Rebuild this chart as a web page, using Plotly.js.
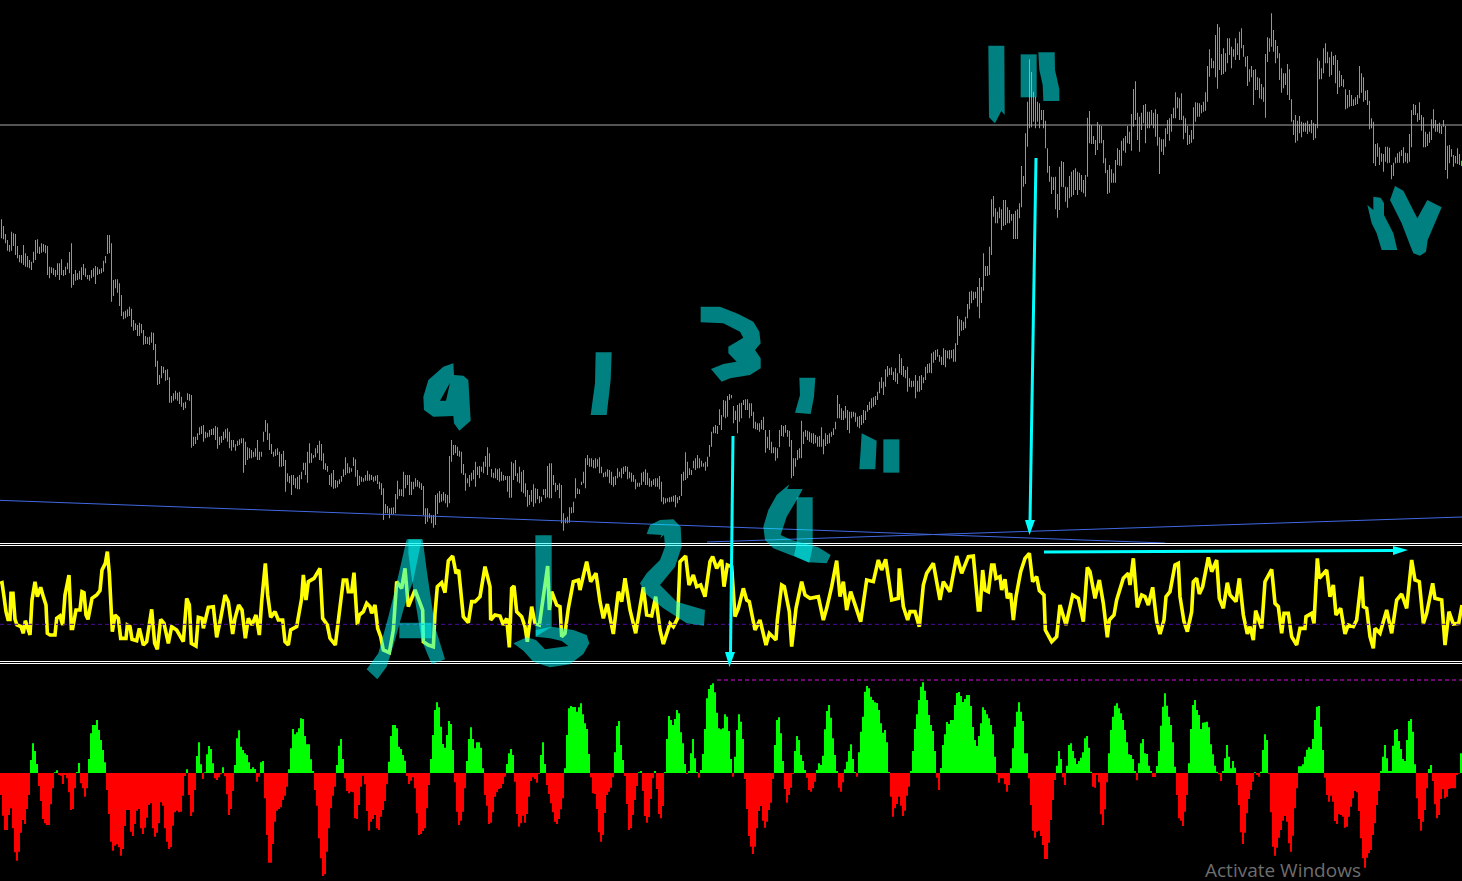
<!DOCTYPE html>
<html><head><meta charset="utf-8">
<script src="https://cdn.plot.ly/plotly-3.0.1.min.js"></script>
<style>html,body{margin:0;padding:0;background:#000;overflow:hidden}#c{width:1462px;height:881px}</style>
</head><body><div id="c"></div>
<script>
// time axis: each bar covers 6 time units
const barStep = 6;
const priceHigh = [971,951,927,909,894,934,929,927,891,864,864,894,869,861,849,844,874,909,911,889,899,897,894,891,829,827,824,819,839,839,851,819,829,841,873,899,807,819,809,817,827,837,824,804,804,819,824,831,827,821,824,847,861,924,924,899,789,791,791,779,744,694,697,701,709,703,669,659,654,661,657,639,621,617,619,632,631,597,547,504,531,529,519,521,497,441,449,457,451,454,439,421,424,449,447,444,319,319,329,347,351,354,334,331,339,342,344,351,347,319,321,334,341,344,334,309,309,296,307,311,314,314,304,287,284,279,274,284,309,274,274,334,369,359,329,297,274,281,284,274,267,277,249,209,201,204,204,194,199,204,214,241,241,274,299,269,264,284,294,307,297,269,239,231,204,209,219,189,187,191,201,221,257,239,227,224,257,251,219,202,199,194,204,217,206,204,199,202,204,184,179,164,117,111,104,106,107,147,187,161,161,214,204,204,204,184,184,194,189,184,179,171,104,104,89,84,84,144,149,156,147,153,147,144,261,309,294,294,289,277,274,237,209,194,204,211,219,244,229,231,229,244,261,287,269,
222,211,224,221,224,214,204,201,201,201,244,239,249,209,229,214,219,179,159,144,159,176,164,162,141,139,161,162,231,239,239,204,181,174,179,174,89,74,79,107,107,124,194,164,161,184,214,254,264,254,254,249,254,251,257,229,211,214,221,219,214,199,201,224,214,224,229,231,229,214,211,204,191,181,181,211,214,221,211,194,187,191,194,194,201,184,137,134,134,137,139,142,144,137,141,207,214,272,244,224,219,247,254,264,254,247,239,244,259,294,334,349,354,351,401,384,429,427,441,447,444,411,397,414,419,421,429,431,431,419,419,394,364,359,359,369,379,339,319,339,304,287,287,284,339,354,351,354,339,337,309,254,254,279,284,367,334,339,337,334,329,329,324,319,321,347,311,329,324,329,334,344,364,444,417,404,397,411,399,394,394,394,391,379,381,384,399,397,414,424,434,437,441,454,484,497,484,521,531,524,527,514,524,509,567,554,531,519,529,494,487,487,504,487,501,504,497,529,537,539,569,574,579,581,564,559,584,579,577,579,579,581,599,681,671,669,664,679,717,754,757,754,754,768,795,
768,869,831,831,889,1031,1041,1004,994,1007,1001,1029,1029,1007,999,987,987,997,1001,1019,1131,1101,1229,1324,1451,1413,1354,1339,1324,1319,1299,1299,1267,1184,1131,1099,1097,1099,1047,1129,1146,1143,1069,1067,1101,1114,1119,1124,1114,1111,1104,1089,1104,1276,1296,1254,1221,1209,1263,1254,1251,1209,1154,1119,1134,1121,1109,1149,1184,1179,1207,1214,1221,1251,1234,1287,1362,1385,1291,1279,1291,1314,1317,1294,1294,1299,1291,1301,1287,1217,1211,1211,1244,1269,1274,1287,1306,1352,1337,1334,1349,1282,1274,1251,1224,1239,1307,1322,1321,1319,1314,1324,1352,1431,1481,1454,1447,1524,1557,1547,1467,1484,1469,1514,1514,1489,1481,1514,1499,1534,1544,1494,1459,1461,1421,1431,1419,1421,1397,1394,1377,1367,1467,1517,1514,1589,1539,1509,1491,1469,1424,1409,1409,1437,1421,1331,1269,1284,1267,1281,1264,1261,1261,1267,1257,1269,1261,1257,1454,1447,1424,1484,1499,1474,1457,1474,1461,1464,1449,1417,1404,1391,1361,1344,1359,1344,1331,1337,1344,1431,1409,1397,1357,1359,1327,1274,1264,1197,1199,1187,1169,1167,1189,1189,1186,1134,1141,1157,1169,1174,1179,1187,1171,1169,1227,1299,1317,1314,1289,1322,1284,1277,1234,1227,1234,1271,1301,1269,1257,1261,1251,1269,1251,1192,1194,1181,1164,1161,1184,1167,1147];
const priceLow = [914,911,899,877,874,877,891,864,854,842,839,834,829,827,824,819,841,849,869,867,871,874,869,804,794,809,804,799,804,789,804,801,804,821,809,766,774,787,789,791,789,804,799,791,787,794,799,777,804,807,809,814,839,867,869,724,741,764,751,711,681,671,674,679,681,649,637,639,621,621,629,595,597,597,594,601,579,529,474,477,494,509,487,489,421,421,427,431,427,417,409,399,404,429,427,286,291,297,309,324,327,304,314,317,319,324,324,309,283,294,301,309,314,304,284,277,287,277,291,294,299,211,234,249,254,254,257,259,249,249,259,304,334,309,279,267,259,261,264,229,229,231,154,184,179,144,174,164,161,161,191,219,204,181,239,241,254,257,269,249,247,221,219,214,174,169,163,164,167,177,184,199,204,209,209,214,231,199,171,174,184,184,187,187,187,189,184,187,177,161,144,69,89,89,74,87,87,89,131,141,141,139,164,174,144,144,161,169,169,164,159,84,57,64,74,59,46,54,87,121,124,127,119,107,119,244,264,269,261,259,209,204,157,179,169,187,191,169,204,194,214,209,229,204,229,
197,194,194,189,184,187,187,189,154,136,136,189,201,184,179,154,149,139,109,114,124,109,119,131,119,124,144,134,137,134,134,174,154,159,134,59,37,59,59,61,89,91,134,147,147,174,179,164,234,229,229,224,224,229,209,209,197,199,199,179,174,169,174,194,199,194,207,214,191,194,184,184,161,169,169,174,184,174,174,169,169,174,169,169,161,124,116,119,124,122,124,124,107,119,129,141,187,189,194,204,204,224,219,224,224,229,229,217,229,259,289,329,329,327,354,339,379,374,379,429,434,359,369,329,364,374,414,399,399,374,381,344,341,339,334,341,339,271,284,279,269,269,247,254,287,321,319,331,319,289,194,201,229,249,254,254,297,319,309,304,301,297,299,289,289,289,266,291,297,299,319,324,341,374,374,369,369,374,339,329,374,379,364,349,344,354,359,369,394,399,404,409,414,429,449,464,444,469,499,504,504,489,484,477,509,504,499,494,454,469,467,469,434,454,454,459,479,489,509,511,509,541,549,559,544,534,534,527,554,551,554,544,544,594,621,637,639,644,674,701,719,729,734,709,674,
720,757,801,801,804,864,979,959,959,974,939,951,954,959,959,967,912,912,912,974,1007,1069,1077,1189,1244,1247,1264,1244,1264,1244,1269,1244,1184,1111,1084,1047,1059,1001,976,999,1069,1067,1024,1006,1034,1039,1044,1059,1044,1059,1054,1049,1039,1099,1199,1197,1197,1164,1179,1199,1199,1139,1109,1047,1051,1081,1081,1081,1134,1132,1132,1177,1171,1199,1197,1177,1249,1269,1209,1174,1239,1259,1199,1244,1244,1254,1244,1219,1192,1107,1174,1164,1189,1227,1207,1234,1274,1274,1304,1269,1269,1211,1231,1194,1197,1201,1211,1264,1279,1279,1289,1294,1297,1324,1399,1424,1424,1397,1363,1419,1404,1407,1414,1439,1464,1424,1459,1449,1464,1449,1484,1459,1429,1371,1384,1397,1314,1359,1359,1334,1331,1324,1276,1443,1474,1489,1474,1439,1454,1389,1351,1364,1374,1344,1329,1264,1224,1201,1207,1229,1217,1234,1234,1227,1234,1229,1209,1214,1244,1391,1391,1409,1439,1439,1399,1404,1434,1379,1347,1367,1371,1367,1301,1304,1309,1311,1311,1314,1317,1334,1351,1324,1329,1314,1241,1244,1139,1131,1159,1134,1144,1114,1144,1139,1141,1091,1101,1139,1141,1141,1161,1139,1144,1139,1144,1187,1284,1284,1264,1269,1237,1187,1187,1191,1201,1209,1244,1234,1234,1229,1227,1249,1119,1093,1139,1159,1129,1139,1137,1134,1131];
const oscX1 = [0,6,12,18,24,30,33,39,45,51,63,70,76,82,90,96,105,112,122,130,138,142,150,165,170,180,188,195,207,214,218,228,240,246,252,258,264,276,290,300,306,316,322,328,334,337,345,355,362,378,382,390,396,410,418,430,440,455,464,472,482,492,505,515,530,550,560,568,574,588,595,606,610,625,640,650,662,675,685,698,705,716,726,736,745,756,768,778,785,796,803,812,825,835,848,855,865,872,890,905,910,918,925,942,960,968,982,990,1006,1030,1040,1045,1055,1062,1072,1078,1090,1100,1110,1115,1125,1133,1142,1150,1168,1180,1190,1205,1215,1225,1245,1268,1270,1285,1300,1305,1312,1325,1335,1345,1358,1368,1376,1390,1405,1415,1425,1440,1455,1470];
const oscY1 = [236,238,196,151,128,128,206,206,128,111,106,86,124,106,81,186,241,196,224,196,171,86,81,81,131,138,111,201,261,101,101,156,156,211,208,141,128,191,201,214,276,296,331,266,106,91,141,131,71,71,111,106,68,64,101,51,61,158,56,38,128,116,56,106,96,61,191,171,56,48,134,131,101,164,166,74,131,201,181,84,131,171,156,71,131,111,141,81,181,296,201,134,151,126,126,61,51,96,106,191,261,186,241,251,281,131,111,71,51,246,246,211,211,268,111,141,151,176,166,146,171,101,76,36,28,96,241,221,281,166,216,156,61,51,46,146,226,238,208,304,318,266,276,136,118,181,181,196,286,226];
const oscX2 = [2,15,30,40,50,58,65,72,80,95,105,112,125,135,148,160,173,178,185,200,210,215,225,235,250,265,270,290,302,318,330,340,352,370,385,395,405,420,437,450,460,470,485,497,510,520,540,550,563,570,587,597,610,620,632,645,660,668,680,695,702,712,725,735,745,760,770,778,795,810,828,838,858,862,875,883,898,905,918,935,945,960,985,1000,1010,1025,1040,1050,1060,1070,1082,1112,1130,1150,1165,1175,1187,1205,1225,1228,1240,1253,1260,1275,1288,1300,1310,1330,1350,1360,1380,1400,1415,1435,1450,1465];
const oscY2 = [126,141,138,111,131,44,221,228,151,136,106,61,166,116,111,191,288,156,211,171,166,76,86,161,241,246,216,301,241,266,181,131,174,84,211,181,251,156,86,166,224,141,138,196,96,54,116,106,131,301,318,231,261,226,231,196,301,316,281,306,226,291,286,136,161,221,186,181,96,126,51,86,66,126,231,226,151,46,161,241,201,191,196,126,161,226,304,196,241,156,211,121,246,241,306,276,308,186,191,281,166,126,151,151,106,231,266,296,186,241,211,318,266,316,318,156];
const oscX3 = [0,8,15,25,35,42,48,60,65,75,82,92,100,108,122,135,148,158,170,178,192,196,215,230,240,258,270,278,295,310,322,330,345,358,370,382,388,402,410,430,445,450,460,472,485,495,505,518,530,540,552,558,570,585,595,600,612,622,635,640,650,658,668,685,695,710,718,730,742,750,768,778,790,802,810,820,827,845,855,875,885,895,905,912,925,935,950,960,975,978,995,1002,1012,1018,1040,1050,1060,1068,1082,1095,1105,1120,1130,1145,1150,1160,1170,1180,1185,1200,1220,1235,1250,1265,1280,1295,1305,1318,1330,1340,1358,1365,1385,1395,1407,1420,1436,1446];
const oscY3 = [156,276,216,211,291,291,251,256,216,248,191,206,126,196,271,311,326,241,256,214,201,96,61,76,171,111,171,201,191,121,284,271,191,246,176,74,126,141,186,251,266,231,311,164,201,196,171,224,121,84,126,196,211,291,296,196,121,91,151,241,251,204,226,314,271,306,191,161,238,201,181,251,141,84,106,66,154,101,241,278,176,166,86,146,146,76,51,101,101,136,146,116,311,251,276,196,231,141,161,84,111,106,126,256,166,161,76,41,101,86,156,86,186,204,161,306,246,241,116,146,236,191,186,51,151,114,116,171];
const histA = [-66,-128,-171,-171,-126,-106,-166,-238,-263,-236,-179,-141,-153,-108,-66,39,89,66,27,-39,-84,-138,-151,-156,-156,-94,-46,2,8,-6,-8,-33,-6,-16,-58,-111,-108,-46,3,30,-31,-46,-71,-46,42,119,144,144,159,129,99,69,32,-51,-123,-206,-233,-218,-214,-223,-248,-228,-159,-111,-111,-176,-189,-153,-113,-108,-166,-183,-164,-134,-96,-91,-166,-191,-179,-151,-88,-98,-166,-206,-228,-223,-158,-118,-113,-118,-116,-68,-9,11,-66,-129,-118,-51,51,92,26,-18,2,56,81,72,29,-16,-21,-13,-4,17,-10,-64,-126,-108,-54,24,104,128,79,69,59,54,32,12,17,12,-26,-11,32,36,-76,-186,-269,-269,-213,-146,-113,-108,-103,-81,-68,-41,11,74,132,116,122,134,164,162,111,86,86,41,6,-51,-98,-196,-256,-309,-304,-236,-166,-106,-68,-41,24,82,102,42,-16,-54,-61,-56,-58,-136,-138,-96,-41,-8,-34,-114,-173,-146,-138,-126,-166,-171,-131,-111,-84,-34,34,111,144,144,134,79,72,54,37,-9,-33,-23,-13,-46,-121,-186,-183,-174,-166,-106,-36,42,114,189,212,197,139,87,76,114,156,147,69,-28,-116,-156,-143,-116,-46,36,102,137,102,74,92,92,76,14,-66,-98,-153];
const histB = [-149,-118,-71,-58,-48,-46,-33,-11,27,59,72,54,-26,-123,-161,-151,-128,-149,-123,-71,-24,-13,-18,-29,-3,54,92,27,-36,-63,-91,-118,-146,-153,-138,-109,-76,14,114,194,201,198,198,184,197,209,176,149,132,57,-13,-61,-63,-108,-178,-206,-186,-120,-66,-56,-44,-13,62,141,156,84,39,-9,-93,-171,-166,-126,-81,-39,2,6,-54,-129,-149,-132,-78,-16,6,-48,-123,-136,-99,3,102,171,159,144,162,189,179,122,89,27,-3,6,59,102,44,3,-14,9,57,132,224,252,264,269,242,181,134,131,134,176,169,126,42,-11,49,129,176,154,102,-18,-108,-189,-221,-243,-221,-166,-114,-99,-143,-164,-146,-111,-89,-18,84,159,167,119,36,-48,-89,-66,-44,-3,66,111,99,54,36,9,-14,-51,-56,-46,-26,9,29,24,52,131,186,204,166,104,54,6,-44,-56,-28,11,34,66,86,42,3,-11,62,124,169,244,261,254,229,219,212,210,189,149,121,129,92,3,-71,-131,-106,-93,-71,-98,-129,-113,-68,-41,6,66,132,176,219,259,272,247,219,174,144,126,66,-14,-51,15,84,116,153,147,159,159,204,240,243,231,213,222,234,234,201,138,99,81,111];
const histC = [149,197,189,176,164,144,116,49,-4,-29,-16,-16,-34,-56,-36,14,74,139,184,212,184,156,59,59,-16,-96,-173,-194,-176,-173,-189,-216,-258,-258,-209,-141,-81,-21,22,66,42,-13,-36,22,84,89,66,44,27,36,46,62,104,111,76,4,-41,-44,-6,-28,-124,-156,-109,-28,59,129,169,202,209,194,179,159,129,92,56,54,42,6,-22,29,89,102,59,57,22,6,-12,-12,21,66,142,199,239,202,169,144,92,19,-66,-136,-143,-159,-116,-66,29,132,204,219,189,174,132,151,152,154,137,86,56,22,4,-4,-24,6,44,84,49,14,36,16,-36,-96,-178,-213,-179,-121,-78,-51,-26,2,-6,-11,4,69,116,99,-2,-118,-221,-248,-224,-194,-171,-143,-129,-146,-211,-236,-188,-106,-46,20,20,26,49,70,77,72,102,159,199,201,139,69,-14,-66,-86,-68,-86,-144,-153,-124,-126,-131,-164,-161,-131,-101,-76,-54,-58,-114,-196,-256,-284,-254,-241,-231,-186,-151,-96,-54,6,49,84,44,6,6,82,129,132,96,72,42,36,99,156,162,124,26,-76,-138,-173,-146,-111,-46,12,24,-24,-94,-136,-126,-78,-49,-76,-71,-48,-46,-46,-46,-6,-2,59];
const levelsOsc = [355.5,349.5,1.5,-4.5];
const midOsc = 113;
const resistance = 1254;
const fibDash = 279;
const trendA = {x:[0,3495], y:[128,0]};
const trendB = {x:[2121,4386], y:[3,78]};

const histValues = histA.concat(histB, histC);
const barX = priceHigh.map((_, i) => i * barStep + 4.5);
const histX = histValues.map((_, i) => i * barStep + 3);
const oscX = oscX1.concat(oscX2.map(v => v + 1470), oscX3.map(v => v + 2940));
const oscY = oscY1.concat(oscY2, oscY3);

const W = 1462, H = 881;
const traces = [
  {type:'bar', x:barX, y:priceHigh.map((h,i)=>h-priceLow[i]), base:priceLow, width:3, xaxis:'x', yaxis:'y',
   marker:{color:'#24e61e', line:{width:0}}, hoverinfo:'skip'},
  {type:'scatter', mode:'lines', x:trendA.x, y:trendA.y, line:{color:'#4169e1', width:1}, xaxis:'x', yaxis:'y', hoverinfo:'skip'},
  {type:'scatter', mode:'lines', x:trendB.x, y:trendB.y, line:{color:'#4169e1', width:1}, xaxis:'x', yaxis:'y', hoverinfo:'skip'},
  {type:'scatter', mode:'lines', x:oscX, y:oscY, line:{color:'#ffff00', width:3.6, shape:'linear'}, xaxis:'x', yaxis:'y2', hoverinfo:'skip'},
  {type:'bar', x:histX, y:histValues, width:barStep, xaxis:'x', yaxis:'y3',
   marker:{color:histValues.map(v=>v>=0?'#00ff00':'#ff0000'), line:{width:0}}, hoverinfo:'skip'},
  {type:'scatter', mode:'lines', x:[2151,4386], y:[fibDash,fibDash], line:{color:'#d814e0', width:1, dash:'4px,3px'}, xaxis:'x', yaxis:'y3', hoverinfo:'skip'}
];

// hand-drawn marker strokes: read in 1/3-pixel units relative to a crop origin
function stroke(ox, oy, pts, hole){
  const sub = a => { let s=''; for(let k=0;k<a.length;k+=2){ s+=(k?'L':'M')+((ox+a[k]/3)/W).toFixed(5)+','+(1-(oy+a[k+1]/3)/H).toFixed(5)+' '; } return s+'Z '; };
  return {type:'path', xref:'paper', yref:'paper', layer:'above', path:sub(pts)+(hole?sub(hole):''),
          fillcolor:'rgba(0,255,255,0.5)', line:{width:0}};
}
const hand = [
  // A
  stroke(0,530,[1220,28,1265,28,1240,150,1210,240,1185,330,1160,410,1132,448,1100,418,1135,370,1165,260,1185,180]),
  stroke(0,530,[1225,28,1268,28,1280,120,1305,290,1335,388,1295,403,1265,330,1240,180,1225,70]),
  stroke(0,530,[1198,278,1295,278,1295,325,1198,325]),
  // L / 5
  stroke(490,530,[136,16,185,16,185,290,137,320]),
  stroke(490,530,[185,290,250,300,290,315,298,340,280,372,240,403,180,412,130,395,100,362,70,340,110,322,138,330,165,358,235,348,215,333,180,325,137,320,137,300]),
  // 2
  stroke(490,530,[480,-15,510,-30,550,-32,572,-10,575,50,555,110,510,165,560,215,645,240,642,287,590,280,520,235,465,190,450,160,470,130,510,90,525,50,522,15,510,25,515,15,470,12]),
  // 4
  stroke(490,290,[898,583,892,597,938,597,925,622,890,680,872,735,905,750,985,772,1022,795,1010,820,955,817,915,800,850,775,825,750,820,710,835,660,860,615]),
  stroke(490,290,[920,622,968,622,968,770,958,818,912,797,920,760]),
  // 3
  stroke(490,290,[632,50,690,50,745,72,790,95,808,125,812,160,795,180,812,205,812,235,780,255,720,265,695,275,663,237,700,222,740,215,715,190,715,170,760,143,750,125,700,100,632,97]),
  // 1 , "
  stroke(490,290,[317,187,365,187,362,270,350,375,302,375,315,280]),
  stroke(490,290,[928,263,976,263,972,320,962,372,915,368,930,315]),
  stroke(490,290,[1115,430,1160,452,1156,538,1108,538,1112,480]),
  stroke(490,290,[1180,448,1228,448,1228,548,1180,548]),
  // 9
  stroke(0,210,[1360,460,1362,495,1390,497,1405,510,1412,632,1378,662,1362,640,1360,618,1300,620,1272,600,1270,560,1285,510,1330,470],[1350,518,1320,572,1338,572]),
  // I II
  stroke(960,0,[85,137,133,137,134,345,124,333,105,370,87,352]),
  stroke(960,0,[182,163,230,163,230,292,182,292]),
  stroke(960,0,[235,157,284,157,285,210,298,268,298,303,250,303,248,255,238,210]),
  // IV
  stroke(960,0,[1240,590,1262,593,1272,610,1272,645,1300,700,1312,750,1265,750,1250,700,1235,670,1222,615,1240,630]),
  stroke(960,0,[1305,558,1330,572,1372,655,1402,600,1445,622,1420,680,1403,720,1398,755,1380,767,1360,760,1350,735,1325,670,1290,600])
];
function tri(a,b,c){ const p=q=>(q[0]/W).toFixed(5)+','+(1-q[1]/H).toFixed(5);
  return {type:'path',xref:'paper',yref:'paper',layer:'above',path:'M'+p(a)+' L'+p(b)+' L'+p(c)+' Z',fillcolor:'#00ffff',line:{width:0}}; }
function seg(x0,y0,x1,y1){ return {type:'line',xref:'paper',yref:'paper',layer:'above',x0:x0/W,x1:x1/W,y0:1-y0/H,y1:1-y1/H,line:{color:'#00ffff',width:3}}; }
const arrows = [
  seg(733,436,730.5,654), tri([725,652],[735,652],[729.5,667]),
  seg(1036,158,1030,522), tri([1025,520],[1035,520],[1029.5,535]),
  seg(1044,552,1395,550.5), tri([1393,546],[1393,555],[1408,550])
];
const hline = (yref,v,color,dash) => ({type:'line',xref:'paper',yref:yref,x0:0,x1:1,y0:v,y1:v,layer:'above',line:{color:color,width:1,dash:dash||'solid'}});
const layout = {
  width:W, height:H, margin:{l:0,r:0,t:0,b:0,pad:0}, paper_bgcolor:'#000', plot_bgcolor:'rgba(0,0,0,0)',
  showlegend:false, barmode:'overlay', hovermode:false,
  xaxis:{range:[0,4386], visible:false, fixedrange:true, domain:[0,1]},
  yaxis:{range:[0,1629], domain:[1-543/H,1], visible:false, fixedrange:true},
  yaxis2:{range:[-54,396], domain:[1-680/H,1-530/H], visible:false, fixedrange:true},
  yaxis3:{range:[-324,327], domain:[0,1-664/H], visible:false, fixedrange:true},
  shapes:[hline('y',resistance,'#a8a8a8')]
    .concat(levelsOsc.map(v=>hline('y2',v,'#ffffff')))
    .concat([hline('y2',midOsc,'#4f0aa0','4px,3px')])
    .concat(hand, arrows),
  annotations:[{xref:'paper',yref:'paper',x:1203/W,y:1-870/H,xanchor:'left',yanchor:'middle',showarrow:false,
    text:'Activate Windows',font:{family:'Open Sans',size:19,color:'#6e6e6e'}}]
};
Plotly.newPlot('c',traces,layout,{staticPlot:true,displayModeBar:false});
</script></body></html>
